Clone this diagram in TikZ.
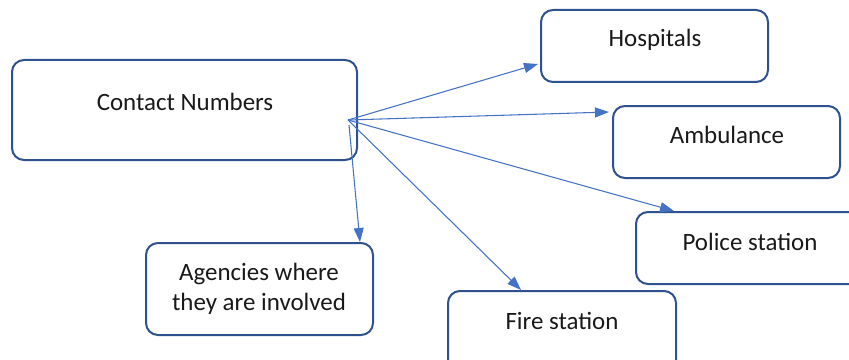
\documentclass[tikz,border=0pt]{standalone}
\usepackage{fontspec}
\setmainfont{Carlito}
\usetikzlibrary{arrows.meta}
\definecolor{boxline}{HTML}{2F528F}
\definecolor{arrowblue}{HTML}{4472C4}
\begin{document}
\begin{tikzpicture}[x=0.75pt,y=-0.75pt,
  box/.style={draw=boxline,line width=1.5pt,rounded corners=9pt,fill=white},
  lbl/.style={font=\fontsize{18.7pt}{22.5pt}\selectfont,text=black!90,align=center,inner sep=0pt},
  arr/.style={draw=arrowblue,line width=0.8pt,-{Triangle[length=10.5pt,width=7.5pt]}}]
\useasboundingbox (0,0) rectangle (849,360);
\clip (0,0) rectangle (849,360);
% boxes
\draw[box] (12,60) rectangle (357,160);
\draw[box] (541,10) rectangle (768,82);
\draw[box] (613,106) rectangle (840,178);
\draw[box] (636,212) rectangle (880,284);
\draw[box] (448,291) rectangle (676,400);
\draw[box] (146,243) rectangle (373,335);
% labels
\node[lbl] (cn) at (185,102) {Contact Numbers};
\node[lbl] (hos) at (655,40) {Hospitals};
\node[lbl] (amb) at (727,135) {Ambulance};
\node[lbl] (pol) at (750,242) {Police station};
\node[lbl] (fire) at (562,321) {Fire station};
\node[lbl] (ag) at (259,289) {Agencies where\\they are involved};
% connector anchors
\coordinate (o1) at (348,120);
\coordinate (o2) at (349,125);
\coordinate (h) at (538,64);
\coordinate (a) at (609,112);
\coordinate (p) at (674,211);
\coordinate (f) at (521,290);
\coordinate (g) at (360,242);
\draw[arr] (o1) -- (h);
\draw[arr] (o1) -- (a);
\draw[arr] (o1) -- (p);
\draw[arr] (o1) -- (f);
\draw[arr] (o2) -- (g);
\end{tikzpicture}
\end{document}
